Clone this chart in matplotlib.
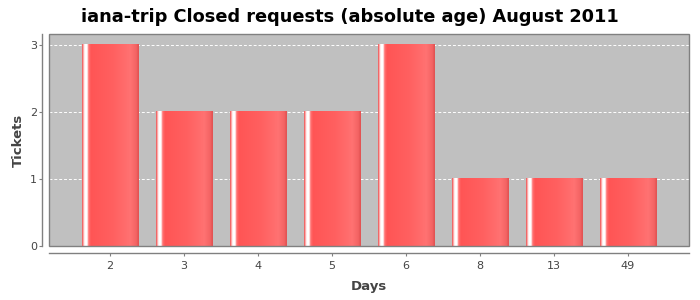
import matplotlib
matplotlib.use("Agg")
import matplotlib.pyplot as plt
import numpy as np
from matplotlib.colors import LinearSegmentedColormap
from matplotlib.patches import Rectangle

days = ["2", "3", "4", "5", "6", "8", "13", "49"]
tickets = [3, 2, 2, 2, 3, 1, 1, 1]
title = "iana-trip Closed requests (absolute age) August 2011"

fig = plt.figure(figsize=(7, 3), dpi=100)
ax = fig.add_axes([49/700, 54/300, 640/700, 212/300])
ax.set_facecolor("#c0c0c0")

x = np.arange(len(days))
bars = ax.bar(x, tickets, width=0.757, color="none", edgecolor="none", zorder=2)

cmap = LinearSegmentedColormap.from_list("bar", [
    (0.0, "#e84848"), (0.025, "#ffb0b0"), (0.05, "#ffffff"), (0.085, "#ffffff"),
    (0.12, "#ff7070"), (0.16, "#ff5555"), (0.55, "#ff6060"), (0.85, "#ff7272"),
    (0.95, "#f46464"), (1.0, "#e05050")])
grad = np.linspace(0, 1, 256).reshape(1, -1)
for b in bars:
    x0, w, h = b.get_x(), b.get_width(), b.get_height()
    ax.imshow(grad, cmap=cmap, aspect="auto", extent=(x0, x0 + w, 0, h),
              zorder=2, interpolation="nearest")

ax.set_xlim(-0.824, len(days) - 1 + 0.824)
ax.set_ylim(0, 3.164)
ax.set_yticks([0, 1, 2, 3])
ax.set_xticks(x)
ax.set_xticklabels(days)

for yv in [1, 2, 3]:
    ax.axhline(yv, color="white", lw=0.7, ls=(0, (3, 2)), zorder=1)

for s in ["top", "right"]:
    ax.spines[s].set_visible(False)
ax.add_patch(Rectangle((0, 0), 1, 1, transform=ax.transAxes, fill=False,
                       edgecolor="#808080", lw=1.0, zorder=5, clip_on=False))
for s in ["left", "bottom"]:
    ax.spines[s].set_position(("outward", 5))
    ax.spines[s].set_color("#808080")
    ax.spines[s].set_linewidth(1.0)

ax.tick_params(axis="both", colors="#808080", labelcolor="#444444",
               labelsize=8, length=2, width=0.8)
ax.tick_params(axis="y", pad=1.5)
ax.tick_params(axis="x", pad=4)
ax.set_ylabel("Tickets", fontsize=9.5, fontweight="bold", color="#444444", labelpad=4)
ax.set_xlabel("Days", fontsize=9.5, fontweight="bold", color="#444444", labelpad=6)

fig.text(0.5, 0.945, title, ha="center", va="center", fontsize=12.8,
         fontweight="bold", color="black")

fig.savefig("out.png", dpi=100)
